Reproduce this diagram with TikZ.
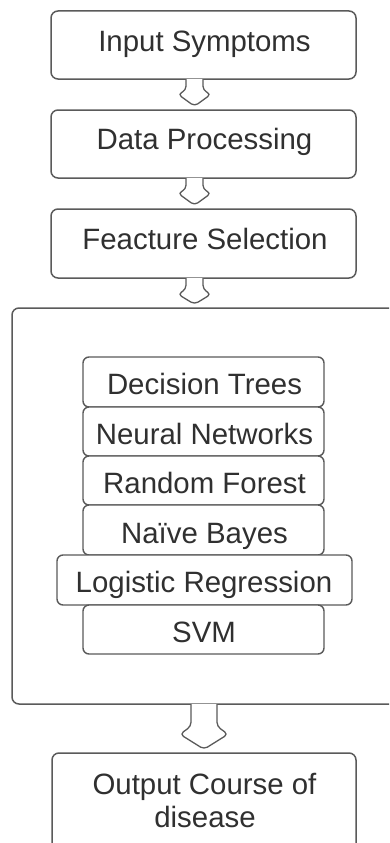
\documentclass[tikz,border=0pt]{standalone}
\usepackage{fontspec}
\setmainfont{Liberation Sans}
\usetikzlibrary{calc}
\definecolor{edge}{RGB}{90,90,90}
\definecolor{ink}{RGB}{48,48,48}
\tikzset{
  box/.style={draw=edge, line width=1.5pt, rounded corners=7pt, inner sep=0pt, fill=white},
  ibox/.style={draw=edge, line width=1.4pt, rounded corners=6pt, inner sep=0pt, fill=white},
  lbl/.style={text=ink, font=\fontsize{29.4}{34}\selectfont, inner sep=0pt, anchor=base},
  harrow/.style={draw=edge, line width=1.3pt, fill=white, rounded corners=4pt, line join=round},
}
% #1 source node, #2 target node, #3 centre x, #4 shaft half width,
% #5 head half width, #6 rise of head corners above tip, #7 rise of shoulders above tip
\newcommand\hollowarrow[7]{%
  \draw[harrow] let \p1=(#1.south), \p2=(#2.north) in
    ({#3pt-#4pt},{\y1+0.7pt}) -- ({#3pt-#4pt},{\y2+3pt+#7pt}) -- ({#3pt-#5pt},{\y2+3pt+#6pt})
    -- ({#3pt},{\y2+3pt}) -- ({#3pt+#5pt},{\y2+3pt+#6pt}) -- ({#3pt+#4pt},{\y2+3pt+#7pt})
    -- ({#3pt+#4pt},{\y1+0.7pt});}
\begin{document}
\begin{tikzpicture}[x=1pt, y=-1pt]
\useasboundingbox (0,0) rectangle (389,843);
\clip (0,0) rectangle (389,843);
\fill[white] (0,0) rectangle (389,843);

% main stages
\node[box, minimum width=305pt, minimum height=68pt] (in) at (203.5,45) {};
\node[lbl] (in-t) at (204.5,52) {Input Symptoms};
\node[box, minimum width=305pt, minimum height=68pt] (dp) at (203.5,144) {};
\node[lbl] (dp-t) at (204.5,149) {Data Processing};
\node[box, minimum width=305pt, minimum height=69pt] (fs) at (203.5,243.5) {};
\node[lbl] (fs-t) at (205,249) {Feacture Selection};

% container of the models
\node[box, minimum width=410pt, minimum height=396pt] (ml) at (217,506) {};

% models
\node[ibox, minimum width=241pt, minimum height=50pt] (dt) at (203.5,382) {};
\node[lbl] (dt-t) at (204.5,394) {Decision Trees};
\node[ibox, minimum width=241pt, minimum height=49pt] (nn) at (203.5,431.5) {};
\node[lbl] (nn-t) at (204.5,444) {Neural Networks};
\node[ibox, minimum width=241pt, minimum height=49pt] (rf) at (203.5,480.5) {};
\node[lbl] (rf-t) at (204.5,493) {Random Forest};
\node[ibox, minimum width=241pt, minimum height=50pt] (nb) at (203.5,530) {};
\node[lbl] (nb-t) at (204.5,543) {Naïve Bayes};
\node[ibox, minimum width=295pt, minimum height=50pt] (lr) at (204.5,580) {};
\node[lbl] (lr-t) at (204,592) {Logistic Regression};
\node[ibox, minimum width=241pt, minimum height=49pt] (svm) at (203.5,629.5) {};
\node[lbl] (svm-t) at (204,642) {SVM};

% output
\node[box, minimum width=304pt, minimum height=110pt] (out) at (204,808) {};
\node[lbl] (out-t1) at (204.5,794) {Output Course of};
\node[lbl] (out-t2) at (205,827) {disease};

% hollow arrows
\hollowarrow{in}{dp}{194.5}{8.5}{16.5}{12}{16}
\hollowarrow{dp}{fs}{194.5}{8.5}{16.5}{12}{16}
\hollowarrow{fs}{ml}{194.5}{8.5}{16.5}{10}{15}
\hollowarrow{ml}{out}{204}{13}{24}{15}{23}
\end{tikzpicture}
\end{document}
